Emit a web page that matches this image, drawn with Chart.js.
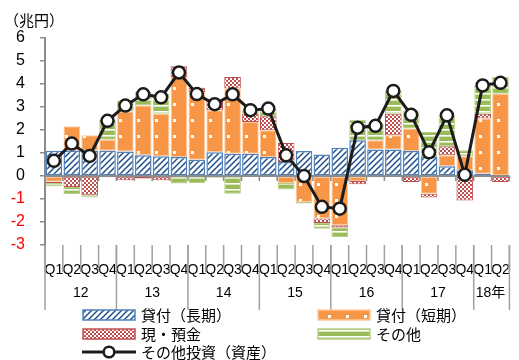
<!DOCTYPE html>
<html><head><meta charset="utf-8">
<script src="https://cdn.jsdelivr.net/npm/chart.js@4"></script>
<style>
html,body{margin:0;padding:0;background:#fff;}
#wrap{position:relative;width:519px;height:360px;overflow:hidden;background:#fff;}
#c{position:absolute;left:0;top:0;}
.unit{position:absolute;left:4px;top:10px;font:15px "Noto Sans CJK JP";line-height:20px;color:#000;}
.lg{position:absolute;font:15px "Noto Sans CJK JP";line-height:19px;white-space:nowrap;color:#000;}
.sw{position:absolute;}
</style></head><body>
<div id="wrap">
<canvas id="c" width="519" height="360"></canvas>
<div class="unit">（兆円）</div>
</div>
<script>
// ---- data ----
const quarterLabels = ['Q1','Q2','Q3','Q4','Q1','Q2','Q3','Q4','Q1','Q2','Q3','Q4','Q1','Q2','Q3','Q4','Q1','Q2','Q3','Q4','Q1','Q2','Q3','Q4','Q1','Q2'];
const yearLabels = ['12','13','14','15','16','17','18年'];
const yearSpans = [4,4,4,4,4,4,2];
const seriesNames = ['貸付（長期）','貸付（短期）','現・預金','その他','その他投資（資産）'];
const loanLong  = [1.1,1.1,1.1,1.1,1.07,0.9,0.86,0.83,0.71,1.03,0.97,0.97,0.83,0.61,1.09,0.93,1.23,1.55,1.15,1.15,1.09,0.83,0.42,0.25,0.1,0.02];
const loanShort = [-0.25,1.06,0.67,0.48,1.73,2.17,1.85,3.47,2.94,1.83,2.83,1.38,1.16,-0.3,-1.13,-1.85,-2.14,-0.22,0.4,0.62,0.97,-0.77,0.48,0.61,2.4,3.56];
const cashDep   = [-0.05,-0.48,-0.84,-0.05,-0.19,-0.11,-0.19,0.47,0.19,0.43,0.5,0.36,0.61,0.82,0,-0.19,-0.1,-0.14,-0.05,0.94,-0.26,-0.17,0.39,-1.06,0.21,-0.26];
const others    = [-0.15,-0.3,-0.1,0.87,0.48,0.58,0.87,-0.33,-0.3,-0.08,-0.77,0.15,0.33,-0.29,-0.07,-0.25,-0.41,0.9,0.73,0.99,0.8,1.08,1.35,0.26,1.23,0.72];
const totalOI   = [0.66,1.41,0.87,2.4,3.06,3.55,3.42,4.5,3.56,3.12,3.55,2.86,2.93,0.9,0.0,-1.34,-1.42,2.1,2.18,3.7,2.66,1.03,2.64,0.05,3.94,4.05];
const yTicks = {min:-3, max:6, step:1};

// ---- pattern tiles ----
function tile(kind){
  const c=document.createElement('canvas'); const g=c.getContext('2d');
  if(kind==='long'){
    c.width=6;c.height=6;g.fillStyle='#fff';g.fillRect(0,0,6,6);
    g.strokeStyle='#1f4e8c';g.lineWidth=1.5;g.beginPath();
    g.moveTo(0,6);g.lineTo(6,0);g.moveTo(-1,1);g.lineTo(1,-1);g.moveTo(5,7);g.lineTo(7,5);g.stroke();
  } else if(kind==='short'){
    c.width=18;c.height=16;g.fillStyle='#f79646';g.fillRect(0,0,18,16);
    g.fillStyle='#fff';g.fillRect(11,7,3,3);
  } else if(kind==='cash'){
    c.width=4;c.height=4;g.fillStyle='#c0504d';g.fillRect(0,0,4,4);
    g.fillStyle='#fff';g.fillRect(0,0,2,2);g.fillRect(2,2,2,2);
  } else {
    c.width=8;c.height=6;g.fillStyle='#9bbb59';g.fillRect(0,0,8,6);
    g.fillStyle='#fff';g.fillRect(0,3,8,1.6);
  }
  return c;
}
const ctx=document.getElementById('c').getContext('2d');
const pat=k=>ctx.createPattern(tile(k),'repeat');

const GRAY='#8c8c8c';
const decor={
  id:'decor',
  beforeDatasetDraw(chart,args){
    if(args.index!==4) return;
    const {ctx:g,scales:{x,y}}=chart;
    const y0=y.getPixelForValue(0); const n=quarterLabels.length; const w=x.width/n;
    g.save();g.strokeStyle=GRAY;g.lineWidth=2;g.beginPath();
    g.moveTo(x.left,y0);g.lineTo(x.right,y0);g.stroke();
    g.lineWidth=1.5;g.beginPath();
    for(let i=1;i<=n;i++){const bx=x.left+i*w;g.moveTo(bx,y0);g.lineTo(bx,y0+5);}
    g.stroke();g.restore();
  },
  afterDraw(chart){
    const {ctx:g,chartArea:a,scales:{x}}=chart;
    const n=quarterLabels.length; const w=x.width/n; const b=a.bottom;
    g.save();g.strokeStyle='#a0a0a0';g.lineWidth=1.5;g.beginPath();
    for(let i=0;i<=n;i++){const bx=x.left+i*w;g.moveTo(bx,b);g.lineTo(bx,b+27);}
    g.stroke();
    g.beginPath();let k=0;
    const bounds=[0];yearSpans.forEach(s=>{k+=s;bounds.push(k);});
    bounds.forEach(i=>{const bx=Math.min(x.left+i*w,518);g.moveTo(bx,b);g.lineTo(bx,b+65);});
    g.stroke();
    g.fillStyle='#000';g.font='14px "Liberation Sans","Noto Sans CJK JP"';g.textAlign='center';g.textBaseline='middle';
    yearLabels.forEach((t,j)=>{const cx=x.left+(bounds[j]+bounds[j+1])/2*w;g.fillText(t,cx+(j===6?-1:0),b+48);});
    g.restore();
  }
};

const barBase={type:'bar',stack:'s',order:1,barPercentage:0.93,categoryPercentage:1,borderSkipped:false};
new Chart(ctx,{
  data:{labels:quarterLabels,datasets:[
    Object.assign({},barBase,{label:seriesNames[0],data:loanLong,backgroundColor:pat('long'),borderColor:'#4f81bd',borderWidth:1.5}),
    Object.assign({},barBase,{label:seriesNames[1],data:loanShort,backgroundColor:pat('short'),borderColor:'#fbc9a0',borderWidth:1}),
    Object.assign({},barBase,{label:seriesNames[2],data:cashDep,backgroundColor:pat('cash'),borderColor:'#c0504d',borderWidth:1}),
    Object.assign({},barBase,{label:seriesNames[3],data:others,backgroundColor:pat('other'),borderColor:'#b5cf86',borderWidth:1}),
    {type:'line',label:seriesNames[4],data:totalOI,stack:'line',order:0,borderColor:'#1c1c1c',borderWidth:3,
     pointRadius:6,pointBackgroundColor:'#fff',pointBorderColor:'#1c1c1c',pointBorderWidth:2.5,tension:0}
  ]},
  options:{
    responsive:false,animation:false,
    layout:{padding:{top:38,left:0,right:0,bottom:0}},
    plugins:{legend:{display:false},tooltip:{enabled:false}},
    scales:{
      x:{stacked:true,offset:true,grid:{display:false},border:{display:false},
         ticks:{autoSkip:false,maxRotation:0,minRotation:0,padding:9,color:'#000',font:{family:'"Liberation Sans"',size:14}},
         afterFit:s=>{s.height=115;}},
      y:{stacked:true,min:yTicks.min,max:yTicks.max,
         grid:{display:true,drawOnChartArea:false,drawTicks:true,tickLength:5,color:GRAY,lineWidth:1.5},
         border:{display:true,color:GRAY,width:2},
         ticks:{stepSize:yTicks.step,padding:15,font:{family:'"Liberation Sans"',size:16},
                color:c=>c.tick.value<0?'#ff0000':'#000'},
         afterFit:s=>{s.width=45;}}
    }
  },
  plugins:[decor]
});

// ---- legend (HTML text + pattern swatches) ----
const wrap=document.getElementById('wrap');
const legendItems=[
  {name:seriesNames[0],kind:'long',border:'#4f81bd',x:82,y:315},
  {name:seriesNames[1],kind:'short',border:'#fbc9a0',x:317,y:315},
  {name:seriesNames[2],kind:'cash',border:'#c0504d',x:82,y:334},
  {name:seriesNames[3],kind:'other',border:'#b5cf86',x:317,y:334},
  {name:seriesNames[4],kind:'line',x:82,y:352}
];
legendItems.forEach(it=>{
  const c=document.createElement('canvas');c.width=54;c.height=14;c.className='sw';
  c.style.left=it.x+'px';c.style.top=(it.y-7)+'px';
  const g=c.getContext('2d');
  if(it.kind==='line'){
    g.strokeStyle='#1c1c1c';g.lineWidth=3;g.beginPath();g.moveTo(0,7);g.lineTo(54,7);g.stroke();
    g.fillStyle='#fff';g.lineWidth=2.5;g.beginPath();g.arc(27,7,5.3,0,Math.PI*2);g.fill();g.stroke();
  } else {
    g.fillStyle=g.createPattern(tile(it.kind),'repeat');g.fillRect(1,2,52,10);
    g.strokeStyle=it.border;g.lineWidth=1.5;g.strokeRect(1,2,52,10);
  }
  wrap.appendChild(c);
  const d=document.createElement('div');d.className='lg';d.textContent=it.name;
  d.style.left=(it.x+59)+'px';d.style.top=(it.y-10)+'px';
  wrap.appendChild(d);
});
</script>
</body></html>
